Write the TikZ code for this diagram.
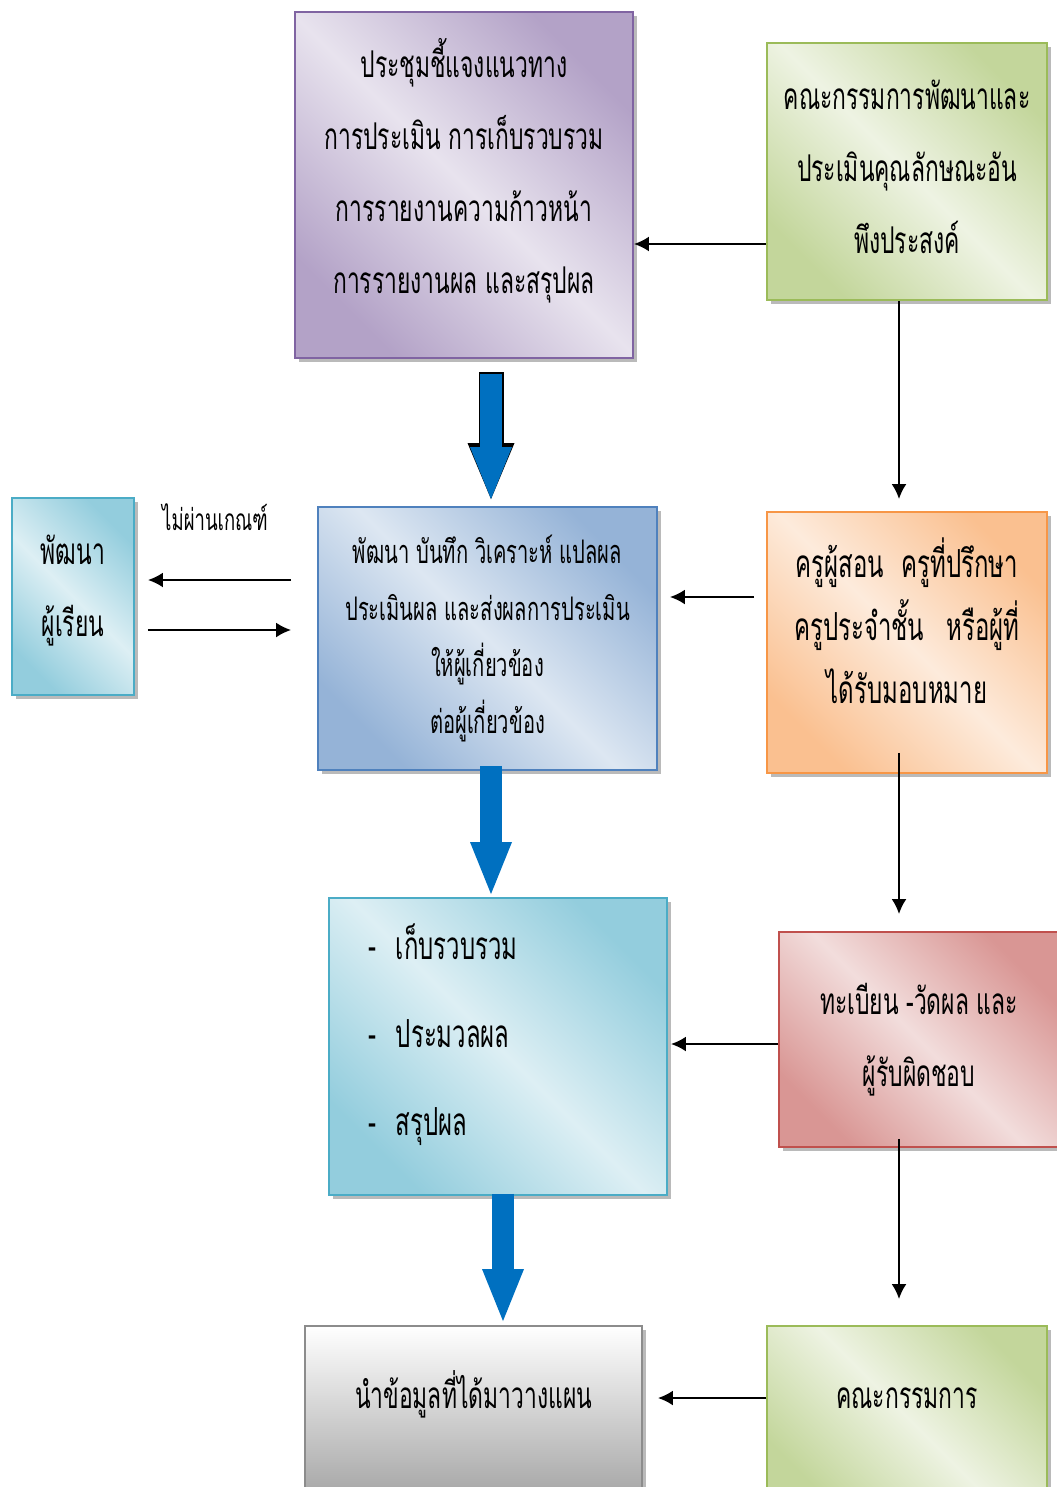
\documentclass[tikz,border=0pt]{standalone}
\usepackage{fontspec}
\usepackage{xcolor}
\usepackage{tikz}
\usetikzlibrary{arrows.meta}
\usetikzlibrary{shadows}

\newfontfamily\thaifont[Script=Thai,FakeStretch=0.62]{Loma}

\definecolor{purpleline}{HTML}{8064A2}
\definecolor{purpledk}{HTML}{B3A2C7}
\definecolor{purplelt}{HTML}{E8E3EE}
\definecolor{greenline}{HTML}{9BBB59}
\definecolor{greendk}{HTML}{C3D69B}
\definecolor{greenlt}{HTML}{EEF3E3}
\definecolor{cyanline}{HTML}{4BACC6}
\definecolor{cyandk}{HTML}{93CDDD}
\definecolor{cyanlt}{HTML}{DDEFF4}
\definecolor{blueline}{HTML}{4F81BD}
\definecolor{bluedk}{HTML}{95B3D7}
\definecolor{bluelt}{HTML}{DDE7F2}
\definecolor{orangeline}{HTML}{F79646}
\definecolor{orangedk}{HTML}{FAC090}
\definecolor{orangelt}{HTML}{FDEBDC}
\definecolor{redline}{HTML}{C0504D}
\definecolor{reddk}{HTML}{D99694}
\definecolor{redlt}{HTML}{F2DDDC}
\definecolor{grayline}{HTML}{8C8C8C}
\definecolor{graydk}{HTML}{A0A0A0}
\definecolor{arrblue}{HTML}{0070C0}

\tikzset{
  box/.style={draw=#1line, line width=0.04cm, inner sep=0pt, align=center,
    left color=#1dk, right color=#1dk, middle color=#1lt, shading angle=-45,
    drop shadow={shadow xshift=2.5pt, shadow yshift=-2.5pt, fill=black!45, opacity=0.6},
    text=black},
  graybox/.style={draw=grayline, line width=0.04cm, inner sep=0pt, align=center,
    top color=white, bottom color=graydk,
    drop shadow={shadow xshift=2.5pt, shadow yshift=-2.5pt, fill=black!45, opacity=0.6}},
  arr/.style={line width=0.04cm, -{Latex[length=0.3cm, width=0.3cm]}},
  bigarr/.style={draw=arrblue, line width=0.44cm,
    -{Triangle[length=1.04cm, width=0.84cm, line width=0pt 0 0]}}
}

\begin{document}
\begin{tikzpicture}[x=0.02cm, y=-0.02cm]
        \useasboundingbox (0,0) rectangle (1057,1487);

        % boxes
        \node[box=purple, minimum width=6.76cm, minimum height=6.92cm, text depth=0.78cm,
              font=\thaifont\fontsize{21}{41}\selectfont] (plan) at (464,185)
            {ประชุมชี้แจงแนวทาง\\การประเมิน การเก็บรวบรวม\\การรายงานความก้าวหน้า\\การรายงานผล และสรุปผล};
        \node[box=green, minimum width=5.6cm, minimum height=5.14cm, text depth=0.2cm,
              font=\thaifont\fontsize{21}{41}\selectfont] (cmte) at (907,171.5)
            {คณะกรรมการพัฒนาและ\\ประเมินคุณลักษณะอัน\\พึงประสงค์};
        \node[box=cyan, minimum width=2.44cm, minimum height=3.94cm, text depth=0.42cm,
              font=\thaifont\fontsize{21}{41}\selectfont] (dev) at (73,596.5)
            {พัฒนา\\ผู้เรียน};
        \node[box=blue, minimum width=6.78cm, minimum height=5.26cm,
              font=\thaifont\fontsize{18.5}{32.3}\selectfont] (rec) at (487.5,638.5)
            {พัฒนา บันทึก วิเคราะห์ แปลผล\\ประเมินผล และส่งผลการประเมิน\\ให้ผู้เกี่ยวข้อง\\ต่อผู้เกี่ยวข้อง};
        \node[box=orange, minimum width=5.6cm, minimum height=5.22cm, text depth=0.88cm,
              font=\thaifont\fontsize{22}{35.7}\selectfont] (teach) at (907,642.5)
            {ครูผู้สอน\hspace{0.35cm}ครูที่ปรึกษา\\ครูประจำชั้น\hspace{0.45cm}หรือผู้ที่\\ได้รับมอบหมาย};
        \node[box=cyan, minimum width=6.76cm, minimum height=5.94cm, align=left,
              text width=5.2cm, inner xsep=0.78cm, text depth=4.2cm,
              font=\thaifont\fontsize{22}{50}\selectfont] (coll) at (498,1046.5)
            {-\hspace{0.4cm}เก็บรวบรวม\\-\hspace{0.4cm}ประมวลผล\\-\hspace{0.4cm}สรุปผล};
        \node[box=red, minimum width=5.6cm, minimum height=4.3cm,
              font=\thaifont\fontsize{21}{41}\selectfont] (reg) at (919,1039.5)
            {ทะเบียน -วัดผล และ\\ผู้รับผิดชอบ};
        \node[graybox, minimum width=6.74cm, anchor=base, text height=1.64cm, text depth=2cm,
              font=\thaifont\fontsize{21}{41}\selectfont] (plan2) at (473.5,1408)
            {นำข้อมูลที่ได้มาวางแผน};
        \node[box=green, minimum width=5.6cm, anchor=base, text height=1.64cm, text depth=2cm,
              font=\thaifont\fontsize{21}{41}\selectfont] (cmte2) at (907,1408)
            {คณะกรรมการ};

        \node[font=\thaifont\fontsize{17}{20}\selectfont, inner sep=0pt] (fail) at (215,517) {ไม่ผ่านเกณฑ์};

        % thin arrows
        \draw[arr] (cmte.west|-0,244) -- (plan.east|-0,244);
        \draw[arr, shorten >=0.24cm] (cmte.south-|899,0) -- (teach.north-|899,0);
        \draw[arr, shorten <=0.24cm, shorten >=0.24cm] (teach.west|-0,597) -- (rec.east|-0,597);
        \draw[arr, shorten <=0.52cm, shorten >=0.26cm] (rec.west|-0,580) -- (dev.east|-0,580);
        \draw[arr, shorten <=0.26cm, shorten >=0.52cm] (dev.east|-0,630) -- (rec.west|-0,630);
        \draw[arr, shorten <=-0.42cm, shorten >=0.34cm] (teach.south-|899,0) -- (reg.north-|899,0);
        \draw[arr, shorten >=0.06cm] (reg.west|-0,1044) -- (coll.east|-0,1044);
        \draw[arr, shorten <=-0.18cm, shorten >=0.52cm] (reg.south-|899,0) -- (cmte2.north-|899,0);
        \draw[arr, shorten >=0.3cm] (cmte2.west|-0,1398) -- (plan2.east|-0,1398);

        % big arrows
        \draw[bigarr, shorten <=0.3cm, shorten >=0.14cm,
              preaction={draw=black, line width=0.5cm, shorten <=0.27cm, shorten >=0.14cm,
                -{Triangle[length=1.12cm, width=0.94cm, line width=0pt 0 0]}}]
            (plan.south-|491,0) -- (rec.north-|491,0);
        \draw[bigarr, shorten <=-0.1cm, shorten >=0.06cm] (rec.south-|491,0) -- (coll.north-|491,0);
        \draw[bigarr, shorten <=-0.04cm, shorten >=0.08cm] (coll.south-|503,0) -- (plan2.north-|503,0);
\end{tikzpicture}
\end{document}
